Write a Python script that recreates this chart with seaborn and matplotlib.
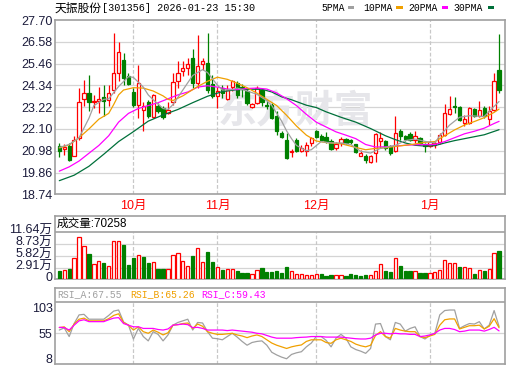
import numpy as np
import matplotlib
matplotlib.use("Agg")
import matplotlib.pyplot as plt
import matplotlib.transforms as mtransforms
from matplotlib.patches import Rectangle
import seaborn as sns

# ---------------- data ----------------
opens = [21.20, 21.05, 21.24, 20.73, 21.63, 23.63, 23.97, 23.51, 23.56, 23.73,
         23.60, 24.11, 25.00, 25.65, 24.83, 24.02, 23.34, 23.09, 23.46, 22.71,
         23.30, 23.20, 22.90, 23.51, 24.54, 25.10, 25.22, 25.73, 24.45, 25.43,
         25.51, 24.42, 23.77, 24.20, 23.65, 24.25, 24.45, 24.28, 24.05, 23.22,
         23.43, 24.11, 23.34, 23.34, 22.74, 21.89, 21.51, 20.90, 21.51, 20.95,
         20.95, 21.38, 21.97, 21.72, 21.68, 21.50, 21.10, 21.40, 21.60, 21.52,
         21.30, 20.73, 20.69, 20.38, 20.86, 21.46, 21.46, 21.24, 20.98, 21.97,
         21.75, 21.86, 21.51, 21.63, 21.34, 21.24, 21.29, 21.41, 21.80, 22.88,
         23.29, 23.22, 22.40, 22.40, 23.12, 22.74, 23.17, 22.61, 23.05, 25.14]
highs = [21.37, 21.34, 21.37, 21.72, 24.20, 24.62, 24.88, 23.85, 24.28, 24.37,
         24.37, 27.02, 26.59, 25.99, 24.97, 24.20, 25.39, 23.51, 23.60, 23.90,
         23.45, 23.30, 23.50, 24.96, 25.61, 25.61, 25.73, 26.20, 26.93, 25.73,
         27.05, 24.88, 24.28, 24.37, 24.35, 24.62, 24.57, 24.42, 24.20, 23.45,
         24.32, 24.20, 23.60, 23.43, 23.00, 21.97, 21.89, 21.07, 21.63, 21.25,
         21.45, 21.68, 22.06, 21.85, 21.95, 21.58, 21.45, 21.68, 21.65, 21.58,
         21.35, 21.00, 20.83, 20.78, 21.89, 21.92, 21.55, 21.29, 22.78, 22.09,
         21.80, 21.92, 21.97, 21.68, 21.38, 21.46, 21.46, 21.89, 23.39, 23.77,
         23.73, 23.29, 22.83, 23.22, 23.17, 23.56, 23.29, 23.29, 24.96, 26.98]
lows = [20.66, 20.78, 20.44, 20.69, 21.55, 23.29, 23.00, 23.17, 22.91, 22.74,
        23.29, 23.94, 24.54, 24.37, 24.37, 23.22, 22.66, 21.97, 22.66, 22.66,
        22.90, 22.60, 22.85, 23.34, 24.20, 24.83, 24.88, 24.20, 24.20, 25.14,
        23.97, 23.68, 23.17, 23.68, 23.60, 24.03, 23.68, 23.74, 23.35, 23.17,
        23.39, 23.29, 23.10, 22.61, 21.80, 21.63, 20.56, 20.66, 20.90, 20.90,
        20.70, 21.24, 21.63, 21.48, 21.40, 21.00, 21.02, 21.22, 21.35, 21.35,
        20.85, 20.70, 20.35, 20.35, 20.38, 21.12, 21.03, 20.78, 20.91, 21.55,
        21.46, 21.46, 21.38, 21.30, 20.90, 21.15, 21.12, 21.34, 21.75, 22.83,
        22.91, 22.52, 22.26, 22.37, 22.71, 22.71, 22.66, 22.31, 23.00, 23.94]
closes = [20.98, 21.15, 20.49, 21.55, 23.51, 23.94, 23.51, 23.56, 23.62, 23.56,
          23.97, 24.97, 26.08, 24.71, 24.42, 23.34, 24.45, 23.29, 22.74, 23.85,
          23.00, 22.70, 23.05, 24.49, 25.00, 25.22, 25.44, 24.45, 25.31, 25.60,
          24.11, 23.80, 24.06, 23.95, 24.12, 24.54, 23.85, 24.14, 23.45, 23.39,
          24.20, 23.51, 23.29, 22.66, 21.97, 21.68, 20.61, 20.95, 20.95, 21.10,
          21.29, 21.63, 21.68, 21.55, 21.47, 21.08, 21.33, 21.58, 21.40, 21.42,
          20.90, 20.86, 20.52, 20.69, 21.84, 21.63, 21.12, 20.86, 21.89, 21.75,
          21.58, 21.55, 21.72, 21.38, 21.24, 21.41, 21.38, 21.80, 22.91, 23.12,
          23.22, 22.57, 22.62, 23.17, 22.78, 23.05, 22.74, 23.00, 24.57, 24.08]
volumes = [20600, 22300, 25600, 52000, 104000, 81700, 61900, 37100, 44600, 39600,
           32200, 94100, 94100, 85000, 35500, 52000, 59400, 55300, 39600, 42100,
           25600, 25600, 25600, 59400, 64400, 44600, 32200, 57000, 76800, 42100,
           67700, 42100, 29700, 23100, 25600, 25600, 20600, 15700, 15700, 12400,
           22300, 28100, 18200, 18200, 20600, 15700, 29700, 19800, 12400, 12400,
           9900, 9900, 12400, 12400, 8300, 9900, 9900, 9900, 8300, 13200,
           10700, 8300, 10700, 9900, 19800, 37100, 20600, 18200, 52000, 33000,
           20600, 20600, 19800, 15700, 15700, 15700, 17300, 22300, 47100, 39600,
           39600, 30500, 29700, 27200, 13200, 22300, 20600, 25600, 64400, 70258]
vol_up = [0, 1, 0, 1, 1, 1, 0, 1, 1, 0, 1, 1, 1, 0, 0, 0, 1, 0, 0, 1,
          0, 0, 1, 1, 1, 1, 1, 0, 1, 1, 0, 0, 1, 0, 1, 1, 0, 0, 0, 1,
          1, 0, 0, 0, 0, 0, 0, 1, 1, 1, 1, 1, 1, 0, 0, 0, 1, 1, 0, 0,
          0, 0, 0, 1, 1, 1, 0, 0, 1, 0, 0, 0, 1, 0, 0, 1, 1, 1, 1, 1,
          1, 0, 1, 1, 0, 1, 0, 1, 1, 0]

ma5_idx = [0, 2, 4, 6, 7, 9, 10, 12, 14, 15, 17, 18, 19, 21, 22, 23, 25, 27, 29, 30,
           32, 33, 35, 36, 38, 40, 42, 43, 44, 45, 46, 47, 48, 50, 51, 53, 55, 57, 59, 61,
           63, 65, 67, 68, 70, 72, 74, 76, 77, 79, 81, 83, 85, 86, 88, 89]
ma5_val = [21.15, 21.30, 21.65, 22.65, 23.30, 23.62, 23.65, 24.28, 24.79, 24.75,
           24.25, 23.85, 23.60, 23.15, 23.10, 23.35, 24.10, 24.85, 25.15, 25.00,
           24.35, 24.10, 24.12, 24.20, 24.05, 23.88, 23.55, 23.30, 22.90, 22.50,
           22.00, 21.60, 21.25, 20.98, 21.03, 21.45, 21.38, 21.38, 21.30, 20.95,
           20.86, 21.10, 21.20, 21.25, 21.50, 21.58, 21.46, 21.38, 21.75, 22.30,
           22.70, 22.78, 22.75, 22.74, 23.26, 23.51]
ma10_idx = [0, 2, 4, 6, 8, 10, 11, 12, 13, 15, 17, 19, 21, 22, 23, 25, 28, 30, 32, 34,
            36, 38, 40, 42, 44, 46, 48, 50, 52, 54, 57, 60, 62, 64, 66, 68, 71, 74, 76, 78,
            80, 82, 84, 86, 88, 89]
ma10_val = [21.12, 21.28, 21.65, 22.10, 22.60, 22.90, 23.35, 23.85, 24.10, 24.22,
            24.20, 24.05, 23.80, 23.62, 23.56, 23.80, 24.28, 24.55, 24.76, 24.65,
            24.45, 24.22, 23.94, 23.62, 23.30, 22.80, 22.25, 21.78, 21.48, 21.40,
            21.34, 21.15, 21.03, 21.10, 21.13, 21.20, 21.29, 21.41, 21.45, 21.75,
            22.05, 22.30, 22.48, 22.68, 22.95, 23.12]
ma20_idx = [0, 2, 4, 6, 8, 10, 12, 14, 16, 18, 20, 22, 24, 26, 28, 30, 32, 34, 36, 38,
            40, 42, 44, 46, 48, 50, 52, 54, 56, 58, 60, 62, 64, 66, 68, 70, 72, 74, 76, 78,
            80, 82, 84, 86, 88, 89]
ma20_val = [19.93, 20.15, 20.45, 20.85, 21.25, 21.75, 22.45, 22.90, 23.15, 23.30,
            23.45, 23.65, 23.85, 24.00, 24.25, 24.32, 24.25, 24.15, 24.12, 24.18,
            24.20, 24.15, 23.95, 23.65, 23.30, 22.85, 22.45, 22.20, 21.95, 21.78,
            21.60, 21.30, 21.17, 21.18, 21.22, 21.26, 21.29, 21.29, 21.30, 21.45,
            21.65, 21.85, 21.98, 22.14, 22.38, 22.49]
ma30_idx = [0, 3, 6, 9, 12, 15, 18, 21, 24, 27, 30, 33, 36, 39, 41, 43, 45, 47, 50, 52,
            54, 57, 60, 63, 66, 68, 70, 72, 74, 76, 78, 80, 83, 86, 89]
ma30_val = [19.44, 19.72, 20.18, 20.80, 21.45, 21.96, 22.50, 22.82, 23.10, 23.45,
            23.78, 24.02, 24.12, 24.14, 24.14, 24.00, 23.75, 23.60, 23.32, 23.20,
            22.98, 22.70, 22.45, 22.12, 21.75, 21.55, 21.38, 21.26, 21.22, 21.24,
            21.38, 21.50, 21.65, 21.80, 22.06]

rsi_a = [61, 65, 49, 73, 89, 90, 81, 81, 81, 81,
         88, 96, 98, 76, 70, 44.5, 64, 49, 41, 58,
         53, 41, 52, 70, 75, 78, 81, 61, 75, 74,
         58, 46, 45, 43, 49, 55, 48, 40, 33, 38,
         40, 41, 33, 20, 15, 11, 8, 16, 19, 21,
         30, 37, 49, 49, 42, 30, 46, 53, 46, 30,
         25, 22, 18, 27, 72, 73, 49, 43, 75, 72,
         59, 64, 67, 49, 44.5, 51, 55, 89, 97, 98,
         98, 64, 69, 73, 72, 76.5, 63, 70, 97, 67.55]
rsi_b = [65.5, 67, 58, 72, 81, 83, 78, 78, 78, 78,
         82, 88, 91, 75, 70, 61, 67, 58, 55, 61,
         57, 52, 56, 70, 71, 73, 74, 64, 72, 68,
         58, 55, 53, 53, 54, 55, 52, 50, 47, 50,
         52, 49, 43, 37, 33, 30, 27, 30, 32, 33.5,
         40, 43, 43, 43, 38, 36.5, 43, 46, 43, 40,
         35, 32, 30, 33, 51, 58, 49, 46, 64, 61,
         59, 58, 58, 49, 47, 50, 53, 70, 80, 81.5,
         81.5, 63, 66, 69, 69, 70, 63, 68, 82, 65.26]
rsi_c = [66, 65.5, 61, 70, 78, 80, 76.5, 76.5, 76.5, 76.5,
         80, 83, 84, 73, 70, 67, 67, 64, 64, 64,
         62, 61, 63, 70, 71, 72, 71, 65.5, 66, 64,
         61, 61, 61, 61, 60, 61, 60, 59, 58, 57,
         55, 54, 51, 48, 46, 46, 46, 46, 47, 47.6,
         48, 49, 49, 49, 48, 48, 48, 48, 47, 46,
         45, 44.5, 44.5, 46, 52, 55, 55, 54, 55, 54,
         54, 53, 53, 49, 50, 52, 55, 61, 64, 64,
         62, 58, 59, 61, 61, 61, 59, 62, 66, 59.43]

price_ticks = [18.74, 19.86, 20.98, 22.10, 23.22, 24.34, 25.46, 26.58, 27.70]
vol_ticks = [0, 29100, 58200, 87300, 116400]
vol_tick_labels = ["0", "2.91万", "5.82万", "8.73万", "11.64万"]
rsi_ticks = [8, 55, 103]
month_idx = [15, 32, 52, 75]
month_labels = ["10月", "11月", "12月", "1月"]

title_name = "天振股份"
title_rest = "[301356] 2026-01-23 15:30"
ma_names = ["5PMA", "10PMA", "20PMA", "30PMA"]
vol_title = "成交量:70258"
rsi_names = ["RSI_A:67.55", "RSI_B:65.26", "RSI_C:59.43"]

# ---------------- style ----------------
sns.set_style("white")
plt.rcParams['font.family'] = ['Liberation Sans', 'Noto Sans CJK SC']
plt.rcParams['axes.unicode_minus'] = False

W, H = 520, 365
fig = plt.figure(figsize=(W / 100, H / 100), dpi=100)
fig.patch.set_facecolor('white')


def rect(l, t, r, b):
    return [l / W, 1 - b / H, (r - l) / W, (b - t) / H]


def fx(px):
    return px / W


def fy(py):
    return 1 - py / H


FRAME = '#a0a0a0'
GRID = '#d4d4d4'
DASH = '#c8c8c8'
RED = '#ff0000'
GREEN = '#008000'
C5, C10, C20, C30 = '#a0a0a0', '#f0a000', '#ff00ff', '#00703a'
TXT = '#1c1c3c'
XL = (-0.87, 90.2)
DASHSTYLE = (0, (3, 1.6))
MONO = 'Liberation Mono'

x = np.arange(len(closes))
o = np.array(opens); c = np.array(closes); hi = np.array(highs); lo = np.array(lows)
up = c >= o


def style_frame(a):
    for s in a.spines.values():
        s.set_color(FRAME)
        s.set_linewidth(1.2)
    a.tick_params(length=0, pad=1.8, labelsize=9, labelcolor=TXT)
    a.set_xticks([])
    a.set_xlabel('')
    a.set_ylabel('')


# ---------------- main price panel ----------------
ax = fig.add_axes(rect(55, 20, 505, 194.3))
ax.set_xlim(*XL)
ax.set_ylim(price_ticks[0] - 0.0005, price_ticks[-1] + 0.0005)
for v in price_ticks[1:-1]:
    ax.axhline(v, color=GRID, lw=0.9, zorder=0)
for m in month_idx:
    ax.axvline(m, color=DASH, lw=0.9, ls=DASHSTYLE, zorder=0)
ax.text(0.535, 0.47, "东方财富", transform=ax.transAxes, ha='center', va='center',
        fontsize=28, color='#e6e6ea', fontweight='bold', family='Noto Sans CJK SC', zorder=0.5)

ax.vlines(x, lo, hi, colors=np.where(up, RED, GREEN), lw=0.9, zorder=2)
ax.bar(x, np.maximum(np.abs(c - o), 0.025), bottom=np.minimum(o, c), width=0.66,
       color=np.where(up, 'white', GREEN), edgecolor=np.where(up, RED, GREEN),
       linewidth=0.9, zorder=3)

for idx, val, col in [(ma30_idx, ma30_val, C30), (ma20_idx, ma20_val, C20),
                      (ma10_idx, ma10_val, C10), (ma5_idx, ma5_val, C5)]:
    sns.lineplot(x=idx, y=val, ax=ax, color=col, lw=0.9, zorder=4, legend=False)

ax.set_yticks(price_ticks)
ax.set_yticklabels([f"{v:.2f}" for v in price_ticks])
style_frame(ax)

trans = mtransforms.blended_transform_factory(ax.transData, ax.transAxes)
for m, lab in zip(month_idx, month_labels):
    ax.text(m, (194.3 - 206) / 174.3, lab, transform=trans, ha='center', va='center',
            color=RED, fontsize=9)

# ---------------- volume panel ----------------
axv = fig.add_axes(rect(55, 216.3, 505, 279.3))
VTOP = vol_ticks[-1] * (279.3 - 216.3) / (279.3 - 232.3)
axv.set_xlim(*XL)
axv.set_ylim(-1, VTOP)
for v in vol_ticks[1:-1]:
    axv.axhline(v, color=GRID, lw=0.9, zorder=0)
axv.axhline(vol_ticks[-1], color=FRAME, lw=1.2, zorder=1)
axv.vlines(month_idx, 0, vol_ticks[-1], colors=DASH, lw=0.9, linestyles=DASHSTYLE, zorder=0)
vu = np.array(vol_up).astype(bool)
axv.bar(x, volumes, width=0.66, color=np.where(vu, 'white', GREEN),
        edgecolor=np.where(vu, RED, GREEN), linewidth=0.9, zorder=3)
axv.set_yticks(vol_ticks)
axv.set_yticklabels(vol_tick_labels)
style_frame(axv)
shift = mtransforms.ScaledTranslation(0, 2.5 / 100, fig.dpi_scale_trans)
for lab in axv.get_yticklabels():
    lab.set_transform(lab.get_transform() + shift)
fig.text(fx(57), fy(224), vol_title, ha='left', va='center', fontsize=8.4, color='#000000')

# ---------------- RSI panel ----------------
axr = fig.add_axes(rect(55, 288.3, 505, 364))
k = 48 / 26.0
rb = 55 - (364 - 333.3) * k
rt = 55 + (333.3 - 288.3) * k
rh = 55 + (333.3 - 301.7) * k
axr.set_xlim(*XL)
axr.set_ylim(rb, rt)
axr.axhline(55, color=GRID, lw=0.9, zorder=0)
axr.axhline(rh, color=FRAME, lw=1.2, zorder=1)
axr.vlines(month_idx, rb, rh, colors=DASH, lw=0.9, linestyles=DASHSTYLE, zorder=0)
for vals, col in [(rsi_a, C5), (rsi_b, C10), (rsi_c, C20)]:
    sns.lineplot(x=x, y=vals, ax=axr, color=col, lw=0.9, zorder=3, legend=False)
axr.set_yticks(rsi_ticks)
axr.set_yticklabels([str(t) for t in rsi_ticks])
style_frame(axr)
for name, col, px in zip(rsi_names, [C5, C10, C20], [57.3, 130, 201.7]):
    fig.text(fx(px), fy(294.5), name, ha='left', va='center', fontsize=7,
             color=col, family=MONO)

# ---------------- header ----------------
fig.text(fx(55), fy(8.3), title_name, ha='left', va='center', fontsize=8.5,
         color='#000000', family='Noto Sans CJK SC')
fig.text(fx(101.7), fy(8.3), title_rest, ha='left', va='center', fontsize=7.25,
         color='#000000', family=MONO)
for name, px, sx, col in zip(ma_names, [321.7, 363.3, 408.3, 453.3],
                             [347.5, 396, 441.7, 487.5], [C5, C10, C20, C30]):
    fig.text(fx(px), fy(8.3), name, ha='left', va='center', fontsize=7,
             color='#000000', family=MONO)
    fig.patches.append(Rectangle((fx(sx), fy(9.3)), 6.5 / W, 3 / H,
                                 transform=fig.transFigure, color=col, lw=0))

fig.savefig("out.png", dpi=100, facecolor='white')
